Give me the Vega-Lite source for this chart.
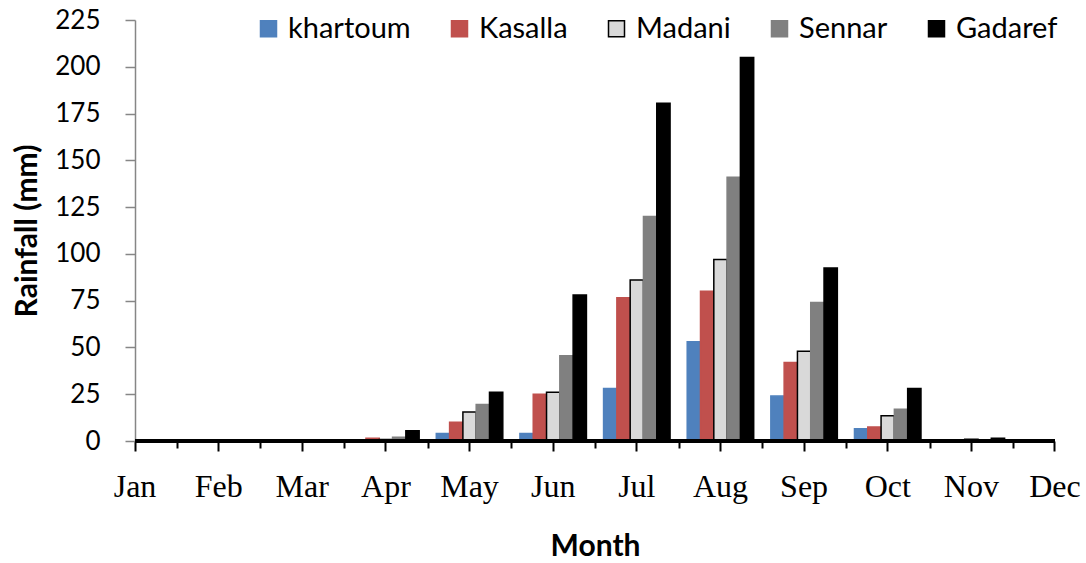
{
  "$schema": "https://vega.github.io/schema/vega-lite/v6.json",
  "width": 920,
  "height": 421,
  "autosize": {"type": "none"},
  "padding": {"left": 135, "top": 20, "right": 31, "bottom": 122},
  "background": "white",
  "config": {"view": {"stroke": null}},
  "data": {"values": [
    {"Month": "Jan", "Station": "khartoum", "Rainfall": 0},
    {"Month": "Jan", "Station": "Kasalla", "Rainfall": 0},
    {"Month": "Jan", "Station": "Madani", "Rainfall": 0},
    {"Month": "Jan", "Station": "Sennar", "Rainfall": 0},
    {"Month": "Jan", "Station": "Gadaref", "Rainfall": 0},
    {"Month": "Feb", "Station": "khartoum", "Rainfall": 0},
    {"Month": "Feb", "Station": "Kasalla", "Rainfall": 0},
    {"Month": "Feb", "Station": "Madani", "Rainfall": 0},
    {"Month": "Feb", "Station": "Sennar", "Rainfall": 0},
    {"Month": "Feb", "Station": "Gadaref", "Rainfall": 0},
    {"Month": "Mar", "Station": "khartoum", "Rainfall": 0},
    {"Month": "Mar", "Station": "Kasalla", "Rainfall": 0},
    {"Month": "Mar", "Station": "Madani", "Rainfall": 0},
    {"Month": "Mar", "Station": "Sennar", "Rainfall": 0},
    {"Month": "Mar", "Station": "Gadaref", "Rainfall": 0},
    {"Month": "Apr", "Station": "khartoum", "Rainfall": 0},
    {"Month": "Apr", "Station": "Kasalla", "Rainfall": 1.5},
    {"Month": "Apr", "Station": "Madani", "Rainfall": 0.8},
    {"Month": "Apr", "Station": "Sennar", "Rainfall": 2},
    {"Month": "Apr", "Station": "Gadaref", "Rainfall": 5.5},
    {"Month": "May", "Station": "khartoum", "Rainfall": 4},
    {"Month": "May", "Station": "Kasalla", "Rainfall": 10},
    {"Month": "May", "Station": "Madani", "Rainfall": 15.5},
    {"Month": "May", "Station": "Sennar", "Rainfall": 19.5},
    {"Month": "May", "Station": "Gadaref", "Rainfall": 26},
    {"Month": "Jun", "Station": "khartoum", "Rainfall": 4},
    {"Month": "Jun", "Station": "Kasalla", "Rainfall": 25},
    {"Month": "Jun", "Station": "Madani", "Rainfall": 26},
    {"Month": "Jun", "Station": "Sennar", "Rainfall": 45.5},
    {"Month": "Jun", "Station": "Gadaref", "Rainfall": 78},
    {"Month": "Jul", "Station": "khartoum", "Rainfall": 28},
    {"Month": "Jul", "Station": "Kasalla", "Rainfall": 76.5},
    {"Month": "Jul", "Station": "Madani", "Rainfall": 86},
    {"Month": "Jul", "Station": "Sennar", "Rainfall": 120},
    {"Month": "Jul", "Station": "Gadaref", "Rainfall": 180.5},
    {"Month": "Aug", "Station": "khartoum", "Rainfall": 53},
    {"Month": "Aug", "Station": "Kasalla", "Rainfall": 80},
    {"Month": "Aug", "Station": "Madani", "Rainfall": 97},
    {"Month": "Aug", "Station": "Sennar", "Rainfall": 141},
    {"Month": "Aug", "Station": "Gadaref", "Rainfall": 205},
    {"Month": "Sep", "Station": "khartoum", "Rainfall": 24},
    {"Month": "Sep", "Station": "Kasalla", "Rainfall": 42},
    {"Month": "Sep", "Station": "Madani", "Rainfall": 48},
    {"Month": "Sep", "Station": "Sennar", "Rainfall": 74},
    {"Month": "Sep", "Station": "Gadaref", "Rainfall": 92.5},
    {"Month": "Oct", "Station": "khartoum", "Rainfall": 6.5},
    {"Month": "Oct", "Station": "Kasalla", "Rainfall": 7.5},
    {"Month": "Oct", "Station": "Madani", "Rainfall": 13.5},
    {"Month": "Oct", "Station": "Sennar", "Rainfall": 17},
    {"Month": "Oct", "Station": "Gadaref", "Rainfall": 28},
    {"Month": "Nov", "Station": "khartoum", "Rainfall": 0},
    {"Month": "Nov", "Station": "Kasalla", "Rainfall": 0},
    {"Month": "Nov", "Station": "Madani", "Rainfall": 1},
    {"Month": "Nov", "Station": "Sennar", "Rainfall": 0},
    {"Month": "Nov", "Station": "Gadaref", "Rainfall": 1.5},
    {"Month": "Dec", "Station": "khartoum", "Rainfall": 0},
    {"Month": "Dec", "Station": "Kasalla", "Rainfall": 0},
    {"Month": "Dec", "Station": "Madani", "Rainfall": 0},
    {"Month": "Dec", "Station": "Sennar", "Rainfall": 0},
    {"Month": "Dec", "Station": "Gadaref", "Rainfall": 0}
  ]},
  "layer": [
    {
      "mark": {"type": "bar", "strokeWidth": 1.5, "clip": true},
      "encoding": {
        "x": {
          "field": "Month", "type": "nominal", "sort": ["Jan","Feb","Mar","Apr","May","Jun","Jul","Aug","Sep","Oct","Nov","Dec"],
          "scale": {"range": [-41.818, 961.818], "paddingInner": 0.205, "paddingOuter": 0.1025},
          "axis": {
            "orient": "bottom", "domain": false, "labelAngle": 0,
            "tickColor": "black", "tickWidth": 2, "tickSize": 10,
            "labelFont": "Liberation Serif", "labelFontSize": 32, "labelColor": "black", "labelPadding": 20,
            "title": "Month", "titleFont": "Lato", "titleFontSize": 30, "titleFontWeight": "bold", "titleColor": "black", "titlePadding": 29
          }
        },
        "xOffset": {"field": "Station", "type": "nominal", "sort": ["khartoum","Kasalla","Madani","Sennar","Gadaref"], "scale": {"paddingInner": 0, "paddingOuter": 0}},
        "y": {
          "field": "Rainfall", "type": "quantitative",
          "scale": {"domain": [0, 225], "nice": false},
          "axis": {
            "values": [0,25,50,75,100,125,150,175,200,225], "grid": false,
            "domainColor": "#868686", "domainWidth": 1.5, "tickColor": "#868686", "tickWidth": 1.5, "tickSize": 10,
            "labelFont": "Lato", "labelFontSize": 26, "labelColor": "black", "labelPadding": 25,
            "title": "Rainfall (mm)", "titleFont": "Lato", "titleFontSize": 30, "titleFontWeight": "bold", "titleColor": "black", "titlePadding": 12
          }
        },
        "color": {
          "field": "Station", "type": "nominal",
          "scale": {"domain": ["khartoum","Kasalla","Madani","Sennar","Gadaref"], "range": ["#4F81BD","#C0504D","#D9D9D9","#808080","#000000"]},
          "legend": {"title": null, "orient": "none", "direction": "horizontal", "legendX": 119, "legendY": -6,
            "symbolType": "square", "symbolSize": 256, "symbolStrokeWidth": 1.5, "labelFont": "Lato", "labelFontSize": 29, "labelColor": "black",
            "labelOffset": 5, "columnPadding": 34, "padding": 0}
        },
        "stroke": {
          "field": "Station", "type": "nominal",
          "scale": {"domain": ["khartoum","Kasalla","Madani","Sennar","Gadaref"], "range": ["#4F81BD","#C0504D","#000000","#808080","#000000"]},
          "legend": {"title": null, "orient": "none", "direction": "horizontal", "legendX": 119, "legendY": -6,
            "symbolType": "square", "symbolSize": 256, "symbolStrokeWidth": 1.5, "labelFont": "Lato", "labelFontSize": 29, "labelColor": "black",
            "labelOffset": 5, "columnPadding": 34, "padding": 0}
        }
      }
    },
    {
      "data": {"values": [{}]},
      "mark": {"type": "rule", "color": "black", "strokeWidth": 4},
      "encoding": {"y": {"datum": 0}}
    },
    {
      "mark": {"type": "tick", "opacity": 0},
      "encoding": {
        "x": {
          "field": "Month", "type": "nominal", "sort": ["Jan","Feb","Mar","Apr","May","Jun","Jul","Aug","Sep","Oct","Nov","Dec"],
          "axis": {
            "orient": "bottom", "domain": false, "labels": false, "title": null,
            "values": ["Jan","Feb","Mar","Apr","May","Jun","Jul","Aug","Sep","Oct","Nov"],
            "tickOffset": 41.818, "tickColor": "black", "tickWidth": 2, "tickSize": 7
          }
        }
      }
    }
  ],
  "resolve": {"axis": {"x": "independent"}}
}
